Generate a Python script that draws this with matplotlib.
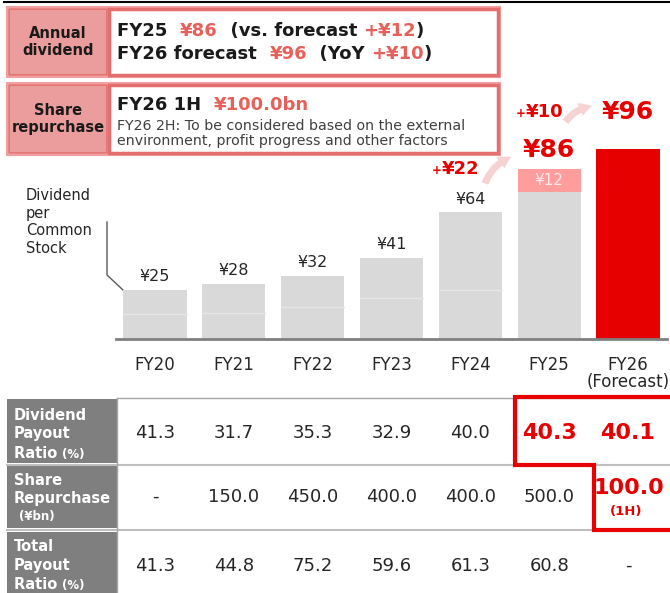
import matplotlib.pyplot as plt
import numpy as np
from matplotlib.patches import Rectangle, FancyArrowPatch

plt.rcParams['font.family'] = ['DejaVu Sans']

years = ['FY20', 'FY21', 'FY22', 'FY23', 'FY24', 'FY25', 'FY26\n(Forecast)']
dps = [25, 28, 32, 41, 64, 86, 96]
interim = [12.5, 13, 16, 20.5, 25]
fy25_forecast = 74
fy25_beat = 12
fy26_yoy = 10
fy24_to_fy25 = 22

payout = [41.3, 31.7, 35.3, 32.9, 40.0, 40.3, 40.1]
buyback = [None, 150.0, 450.0, 400.0, 400.0, 500.0, 100.0]
total_payout = [41.3, 44.8, 75.2, 59.6, 61.3, 60.8, None]

W, H = 670, 593
fig = plt.figure(figsize=(W / 100, H / 100), dpi=100)

# overlay axes in pixel coords for boxes / table
ax = fig.add_axes([0, 0, 1, 1])
ax.set_xlim(0, W)
ax.set_ylim(H, 0)
ax.axis('off')

PINK = '#e46e6e'
PINKFILL = '#eb9c9c'
SALMON = '#e8605a'
RED = '#e60000'
DARK = '#1a1a1a'

renderer = fig.canvas.get_renderer()


def chain(x, y, parts):
    # draw text pieces one after another on a shared baseline
    for s, col, size, weight in parts:
        t = ax.text(x, y, s, color=col, fontsize=size, fontweight=weight,
                    va='baseline', ha='left')
        bb = t.get_window_extent(renderer)
        x = bb.x1
    return x


# top black rule
ax.plot([4, W], [2, 2], color='black', lw=1.5)

# info boxes
for top, bot, lab in [(7, 77, 'Annual\ndividend'), (83, 155, 'Share\nrepurchase')]:
    ax.add_patch(Rectangle((7, top), 493, bot - top, facecolor='white',
                           edgecolor='#f0a0a0', lw=1.5))
    ax.add_patch(Rectangle((9, top + 2), 98, bot - top - 4, facecolor=PINKFILL,
                           edgecolor=PINK, lw=1.2))
    ax.add_patch(Rectangle((109, top + 2), 389, bot - top - 4, facecolor='white',
                           edgecolor=PINK, lw=2.5))
    ax.text(58, (top + bot) / 2, lab, ha='center', va='center', fontsize=10.5,
            fontweight='bold', color=DARK, linespacing=1.15)

fs = 13
chain(117, 36, [('FY25  ', DARK, fs, 'bold'), ('¥86', SALMON, fs, 'bold'),
                ('  (vs. forecast ', DARK, fs, 'bold'),
                (f'+¥{fy25_beat}', SALMON, fs, 'bold'), (')', DARK, fs, 'bold')])
chain(117, 59, [('FY26 forecast  ', DARK, fs, 'bold'), ('¥96', SALMON, fs, 'bold'),
                ('  (YoY ', DARK, fs, 'bold'),
                (f'+¥{fy26_yoy}', SALMON, fs, 'bold'), (')', DARK, fs, 'bold')])
chain(117, 110, [('FY26 1H  ', DARK, fs, 'bold'), ('¥100.0bn', SALMON, fs, 'bold')])
ax.text(117, 130, 'FY26 2H: To be considered based on the external', fontsize=10.2,
        color='#404040', va='baseline')
ax.text(117, 145, 'environment, profit progress and other factors', fontsize=10.2,
        color='#404040', va='baseline')

# side label + leader line
ax.text(26, 222, 'Dividend\nper\nCommon\nStock', fontsize=10.5, color='#262626',
        va='center', ha='left', linespacing=1.2)
ax.plot([107, 107, 123], [222, 275, 290], color='#595959', lw=1)

# bar chart axes
axb = fig.add_axes([116 / W, (H - 339) / H, 551 / W, 198 / H])
axb.patch.set_visible(False)
x = np.arange(len(years))
bw = 0.8
grey = '#d9d9d9'
axb.bar(x[:5], dps[:5], width=bw, color=grey, zorder=2)
axb.bar(x[5], fy25_forecast, width=bw, color=grey, zorder=2)
axb.bar(x[5], fy25_beat, bottom=fy25_forecast, width=bw, color='#ff9d9d', zorder=2)
axb.bar(x[6], dps[6], width=bw, color=RED, zorder=2)
for i, v in enumerate(interim):
    axb.plot([i - bw / 2, i + bw / 2], [v, v], color='#e6e6e6', lw=1, zorder=3)

for i in range(5):
    axb.annotate(f'¥{dps[i]}', (x[i], dps[i]), xytext=(0, 4), textcoords='offset points',
                 ha='center', va='bottom', fontsize=11.5, color='#262626')
axb.annotate(f'¥{fy25_beat}', (x[5], fy25_forecast + fy25_beat / 2), ha='center',
             va='center', fontsize=11, color='#ffe8e8', zorder=4)
axb.annotate(f'¥{dps[5]}', (x[5], dps[5]), xytext=(0, 5), textcoords='offset points',
             ha='center', va='bottom', fontsize=18, fontweight='bold', color=RED)
axb.annotate(f'¥{dps[6]}', (x[6], dps[6]), xytext=(0, 18), textcoords='offset points',
             ha='center', va='bottom', fontsize=18, fontweight='bold', color=RED)
axb.set_xlim(-0.495, 6.495)
axb.set_ylim(0, 100)
for s in ['top', 'left', 'right']:
    axb.spines[s].set_visible(False)
axb.spines['bottom'].set_color('#808080')
axb.spines['bottom'].set_linewidth(2)
axb.set_yticks([])
axb.set_xticks(x)
axb.set_xticklabels(years, fontsize=12, color='#262626')
axb.tick_params(axis='x', length=0, pad=12)
for lbl in axb.get_xticklabels():
    lbl.set_linespacing(0.95)

# increment labels
chain(432, 174, [('+', RED, 8.5, 'bold'), (f'¥{fy24_to_fy25}', RED, 13, 'bold')])
chain(516, 117, [('+', RED, 8.5, 'bold'), (f'¥{fy26_yoy}', RED, 13, 'bold')])
for p0, p1 in [((484, 186), (514, 156)), ((564, 124), (595, 106))]:
    ax.add_patch(FancyArrowPatch(p0, p1, connectionstyle='arc3,rad=-0.25',
                                 arrowstyle='simple,head_width=10,head_length=9,tail_width=5',
                                 color='#f6d2d2', lw=0))

# table
col_x = [155 + i * 78.83 for i in range(7)]
rows = [(399, 463, 433), (466, 528, 497), (532, 593, 566)]
for top, bot, _ in rows:
    ax.add_patch(Rectangle((7, top), 110, bot - top, facecolor='#7f7f7f', lw=0))
ax.plot([117, W], [398, 398], color='#a6a6a6', lw=1)
ax.plot([7, W], [464.5, 464.5], color='#bfbfbf', lw=1.5)
ax.plot([7, W], [530, 530], color='#bfbfbf', lw=1.5)
ax.plot([117, 117], [398, H], color='#a6a6a6', lw=1)

hdr = dict(color='white', fontweight='bold', va='baseline')
ax.text(14, 420, 'Dividend', fontsize=10.5, **hdr)
ax.text(14, 438, 'Payout', fontsize=10.5, **hdr)
chain(14, 458, [('Ratio ', 'white', 10.5, 'bold'), ('(%)', 'white', 8.5, 'bold')])
ax.text(14, 485, 'Share', fontsize=10.5, **hdr)
ax.text(14, 503, 'Repurchase', fontsize=10.5, **hdr)
ax.text(19, 520, '(¥bn)', fontsize=8.5, **hdr)
ax.text(14, 551, 'Total', fontsize=10.5, **hdr)
ax.text(14, 570, 'Payout', fontsize=10.5, **hdr)
chain(14, 589, [('Ratio ', 'white', 10.5, 'bold'), ('(%)', 'white', 8.5, 'bold')])


def fmt(v):
    return '-' if v is None else f'{v:.1f}'


for i in range(7):
    hl1 = i >= 5
    ax.text(col_x[i], rows[0][2], fmt(payout[i]), ha='center', va='center',
            fontsize=16 if hl1 else 13, fontweight='bold' if hl1 else 'normal',
            color=RED if hl1 else '#262626')
    if i == 6:
        ax.text(col_x[i] + 1, 488, fmt(buyback[i]), ha='center', va='center',
                fontsize=16, fontweight='bold', color=RED)
        ax.text(col_x[i] - 2, 511, '(1H)', ha='center', va='center',
                fontsize=9.5, fontweight='bold', color=RED)
    else:
        ax.text(col_x[i], rows[1][2], fmt(buyback[i]), ha='center', va='center',
                fontsize=13, color='#262626')
    ax.text(col_x[i], rows[2][2], fmt(total_payout[i]), ha='center', va='center',
            fontsize=13, color='#262626')

# red highlight frame
ax.plot([W, 515, 515, 594, 594, W], [397, 397, 465, 465, 530, 530],
        color=RED, lw=3, solid_joinstyle='miter')

fig.savefig('out.png', dpi=100)
